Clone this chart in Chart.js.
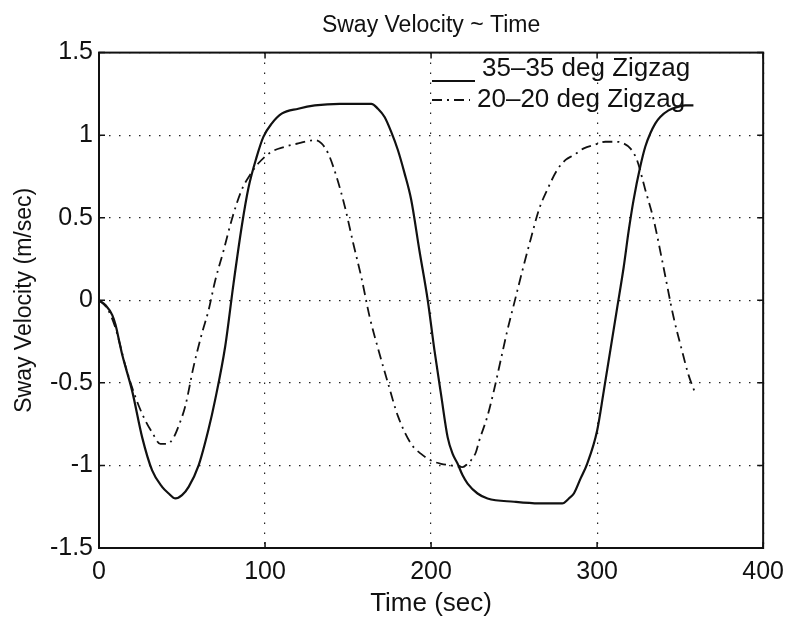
<!DOCTYPE html>
<html>
<head>
<meta charset="utf-8">
<script src="https://cdn.jsdelivr.net/npm/chart.js@4/dist/chart.umd.min.js"></script>
<style>
  html, body { margin: 0; padding: 0; background: #fff; }
  canvas { display: block; }
</style>
</head>
<body>
<canvas id="c" width="793" height="617"></canvas>
<script>
// ---- data ----
const titleText = 'Sway Velocity ~ Time';
const xTitle = 'Time (sec)';
const yTitle = 'Sway Velocity (m/sec)';
const seriesNames = ['35\u201335 deg Zigzag', '20\u201320 deg Zigzag'];

const time35 = [0, 4, 8, 10, 12, 14, 20, 26, 32, 38, 42, 46, 50, 54, 60, 66, 70, 76, 81, 86, 90, 95, 99, 104, 110, 120, 130, 145, 164, 168, 172, 176, 180, 184, 188, 193, 198, 202, 206, 210, 213, 216, 219, 222, 228, 234, 250, 265, 279, 283, 286, 290, 294, 300, 304, 308, 312, 316, 319, 322, 326, 329, 332, 335, 338, 343, 348, 353, 358];
const sway35 = [0, -0.03, -0.09, -0.15, -0.24, -0.33, -0.55, -0.83, -1.03, -1.13, -1.17, -1.20, -1.18, -1.13, -1.00, -0.78, -0.60, -0.28, 0.10, 0.45, 0.68, 0.87, 0.99, 1.07, 1.13, 1.16, 1.18, 1.19, 1.19, 1.16, 1.11, 1.02, 0.91, 0.77, 0.61, 0.30, 0.00, -0.30, -0.57, -0.83, -0.93, -0.99, -1.06, -1.11, -1.17, -1.20, -1.22, -1.23, -1.23, -1.20, -1.17, -1.08, -0.99, -0.79, -0.55, -0.30, -0.05, 0.20, 0.42, 0.61, 0.81, 0.93, 1.01, 1.07, 1.11, 1.15, 1.17, 1.18, 1.18];

const time20 = [0, 5, 10, 16, 20, 24, 28, 32, 37, 41, 45, 48, 52, 57, 62, 66, 70, 75, 80, 86, 91, 96, 104, 112, 120, 130, 134, 138, 143, 148, 153, 158, 163, 168, 174, 180, 188, 194, 200, 206, 212, 219, 222, 224, 227, 229, 234, 238, 242, 246, 250, 252, 255, 260, 265, 270, 276, 281, 286, 292, 298, 305, 312, 316, 320, 324, 329, 334, 340, 346, 351, 355, 359];
const sway20 = [0, -0.05, -0.17, -0.40, -0.53, -0.64, -0.73, -0.80, -0.87, -0.87, -0.83, -0.76, -0.64, -0.40, -0.20, -0.06, 0.12, 0.30, 0.49, 0.67, 0.76, 0.83, 0.90, 0.93, 0.95, 0.97, 0.95, 0.89, 0.75, 0.57, 0.35, 0.14, -0.10, -0.29, -0.50, -0.70, -0.87, -0.93, -0.97, -0.99, -1.00, -1.01, -0.99, -0.97, -0.92, -0.85, -0.70, -0.54, -0.36, -0.18, -0.02, 0.06, 0.18, 0.37, 0.55, 0.67, 0.79, 0.85, 0.88, 0.92, 0.94, 0.96, 0.96, 0.95, 0.92, 0.85, 0.67, 0.49, 0.20, -0.10, -0.30, -0.45, -0.56];

const xTicks = [0, 100, 200, 300, 400];
const yTicks = [-1.5, -1, -0.5, 0, 0.5, 1, 1.5];

// ---- styles ----
const FONT = "'Liberation Sans', Arial, Helvetica, sans-serif";
const INK = '#111';
const dashDot = [10, 5, 2, 5];

const pts = (xs, ys) => xs.map((x, i) => ({ x: x, y: ys[i] }));

const boxPlugin = {
  id: 'boxPlugin',
  afterDatasetsDraw(chart) {
    const { ctx, chartArea: a, scales } = chart;
    ctx.save();
    ctx.strokeStyle = INK;
    ctx.lineWidth = 2;
    ctx.setLineDash([]);
    ctx.strokeRect(a.left, a.top, a.right - a.left, a.bottom - a.top);
    ctx.lineWidth = 1.5;
    const tl = 6;
    xTicks.forEach(v => {
      const px = scales.x.getPixelForValue(v);
      ctx.beginPath();
      ctx.moveTo(px, a.bottom); ctx.lineTo(px, a.bottom - tl);
      ctx.moveTo(px, a.top); ctx.lineTo(px, a.top + tl);
      ctx.stroke();
    });
    yTicks.forEach(v => {
      const py = scales.y.getPixelForValue(v);
      ctx.beginPath();
      ctx.moveTo(a.left, py); ctx.lineTo(a.left + tl, py);
      ctx.moveTo(a.right, py); ctx.lineTo(a.right - tl, py);
      ctx.stroke();
    });
    // legend (transparent, inside axes, top right)
    ctx.font = '26px ' + FONT;
    ctx.fillStyle = INK;
    ctx.textBaseline = 'middle';
    ctx.textAlign = 'left';
    const lx0 = 432, lx1 = 475, tx = 482;
    const rows = [69, 100];
    ctx.lineWidth = 2;
    ctx.setLineDash([]);
    ctx.beginPath(); ctx.moveTo(lx0, rows[0] + 12); ctx.lineTo(lx1, rows[0] + 12); ctx.stroke();
    ctx.fillText(seriesNames[0], tx, rows[0]);
    ctx.setLineDash(dashDot);
    ctx.beginPath(); ctx.moveTo(lx0, rows[1]); ctx.lineTo(lx1 - 5, rows[1]); ctx.stroke();
    ctx.setLineDash([]);
    ctx.fillText(seriesNames[1], tx - 5, rows[1]);
    ctx.restore();
  }
};

new Chart(document.getElementById('c'), {
  type: 'line',
  data: {
    datasets: [
      {
        label: seriesNames[0],
        data: pts(time35, sway35),
        borderColor: INK,
        borderWidth: 2.2,
        pointRadius: 0,
        cubicInterpolationMode: 'monotone',
        fill: false
      },
      {
        label: seriesNames[1],
        data: pts(time20, sway20),
        borderColor: INK,
        borderWidth: 1.8,
        borderDash: dashDot,
        pointRadius: 0,
        cubicInterpolationMode: 'monotone',
        fill: false
      }
    ]
  },
  options: {
    responsive: false,
    animation: false,
    devicePixelRatio: 1,
    layout: { padding: { left: 0, right: 26, top: 0, bottom: 0 } },
    plugins: {
      legend: { display: false },
      tooltip: { enabled: false },
      title: {
        display: true,
        text: titleText,
        fullSize: false,
        color: INK,
        font: { family: FONT, size: 23, weight: 'normal', lineHeight: 1.2 },
        padding: { top: 12, bottom: 13 }
      }
    },
    scales: {
      x: {
        type: 'linear',
        min: 0, max: 400,
        afterBuildTicks: s => { s.ticks = xTicks.map(v => ({ value: v })); },
        afterFit: s => { s.height = 69; },
        ticks: { color: INK, font: { family: FONT, size: 25 }, padding: 9, maxRotation: 0, callback: v => String(v) },
        grid: { color: '#222', lineWidth: 1.2, drawTicks: false },
        border: { display: false, dash: [1.5, 8.5] },
        title: { display: true, text: xTitle, color: INK, font: { family: FONT, size: 26, lineHeight: 1 }, padding: { top: 0, bottom: 0 } }
      },
      y: {
        type: 'linear',
        min: -1.5, max: 1.5,
        afterBuildTicks: s => { s.ticks = yTicks.map(v => ({ value: v })); },
        afterFit: s => { s.width = 99; },
        ticks: { color: INK, font: { family: FONT, size: 25 }, padding: 6, callback: v => String(v) },
        grid: { color: '#222', lineWidth: 1.2, drawTicks: false },
        border: { display: false, dash: [1.5, 8.5] },
        title: { display: true, text: yTitle, color: INK, font: { family: FONT, size: 23 }, padding: { top: 11, bottom: 0 } }
      }
    }
  },
  plugins: [boxPlugin]
});
</script>
</body>
</html>
